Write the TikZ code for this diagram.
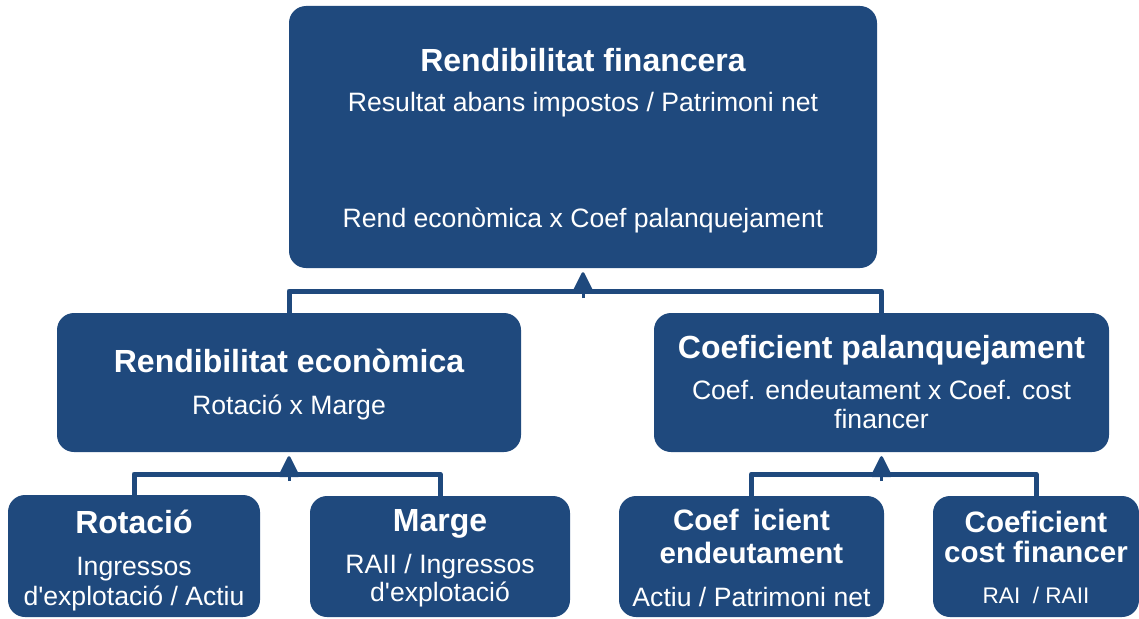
\documentclass[tikz,border=0pt]{standalone}
\usepackage{fontspec}
\setmainfont{Liberation Sans}
\usetikzlibrary{arrows.meta}
\definecolor{navy}{HTML}{1F497D}
\tikzset{
  box/.style={fill=navy, draw=none, rounded corners=17pt, inner sep=0pt},
  ttl/.style={text=white, anchor=base, inner sep=0pt, font=\fontsize{32}{36}\selectfont\bfseries},
  ttlb/.style={text=white, anchor=base, inner sep=0pt, font=\fontsize{29.5}{34}\selectfont\bfseries},
  sub/.style={text=white, anchor=base, inner sep=0pt, font=\fontsize{26.6}{30}\selectfont},
  subs/.style={text=white, anchor=base, inner sep=0pt, font=\fontsize{22.6}{26}\selectfont},
  conn/.style={draw=navy, line width=5pt, line join=round},
  uparrow/.style={draw=navy, line width=3pt, line join=round, -{Triangle[width=22pt,length=23pt,round]}, shorten >=4pt}
}
\begin{document}
\begin{tikzpicture}[x=1pt,y=-1pt]
\useasboundingbox (0,0) rectangle (1139,618);
% boxes
\node[box, minimum width=588pt, minimum height=262pt] (top) at (583,137) {};
\node[box, minimum width=464pt, minimum height=139pt] (reco) at (289,382.5) {};
\node[box, minimum width=455pt, minimum height=139pt] (coefp) at (881.5,382.5) {};
\node[box, minimum width=252pt, minimum height=122pt] (rot) at (134,556) {};
\node[box, minimum width=260pt, minimum height=121pt] (marge) at (440,556.5) {};
\node[box, minimum width=265pt, minimum height=121pt] (coefe) at (751.5,556.5) {};
\node[box, minimum width=206pt, minimum height=121pt] (coefc) at (1036,556.5) {};
% texts
\node[ttl] (t1) at (583,71) {Rendibilitat financera};
\node[sub] (t2) at (583,111) {Resultat abans impostos / Patrimoni net};
\node[sub] (t3) at (583,227) {Rend econòmica x Coef palanquejament};
\node[ttl] (t4) at (289,372) {Rendibilitat econòmica};
\node[sub] (t5) at (289,414) {Rotació x Marge};
\node[ttl] (t6) at (881.5,358) {Coeficient palanquejament};
\node[sub] (t7) at (881.5,399) {Coef. endeutament x Coef. cost};
\node[sub] (t8) at (881.5,428) {financer};
\node[ttl] (t9) at (134,533) {Rotació};
\node[sub] (t10) at (134,575) {Ingressos};
\node[sub] (t11) at (134,605) {d\textquotesingle explotació / Actiu};
\node[ttl] (t12) at (440,531) {Marge};
\node[sub] (t13) at (440,573) {RAII / Ingressos};
\node[sub] (t14) at (440,601) {d\textquotesingle explotació};
\node[ttlb] (t15) at (751.5,530) {Coef\hspace{0.2em} icient};
\node[ttlb] (t16) at (751.5,563) {endeutament};
\node[sub] (t17) at (751.5,606) {Actiu / Patrimoni net};
\node[ttlb] (t18) at (1036,532) {Coeficient};
\node[ttlb] (t19) at (1036,562) {cost financer};
\node[subs] (t20) at (1036,603) {RAI \ / RAII};
% connectors level 1
\coordinate (j1) at (583,298);
\draw[conn] ([yshift=-6pt]reco.north) |- (583,291) -| ([yshift=-6pt]coefp.north);
\draw[uparrow] (j1) -- (top.south);
% connectors level 2 left
\coordinate (j2) at (289,481);
\draw[conn] ([yshift=-6pt]rot.north) |- (289,474) -| ([yshift=-6pt]marge.north);
\draw[uparrow] (j2) -- (reco.south);
% connectors level 2 right
\coordinate (j3) at (881.5,481);
\draw[conn] ([yshift=-6pt]coefe.north) |- (881.5,474) -| ([yshift=-6pt]coefc.north);
\draw[uparrow] (j3) -- (coefp.south);
\end{tikzpicture}
\end{document}
